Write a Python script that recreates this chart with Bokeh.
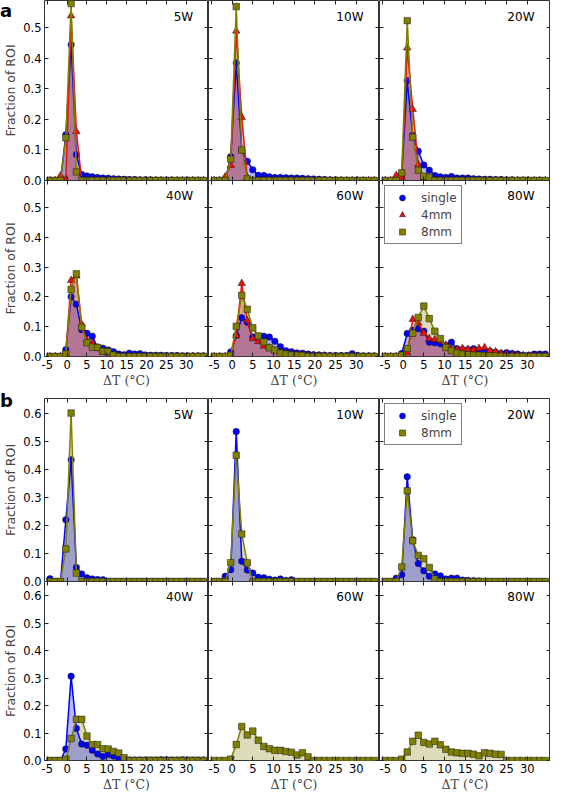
from bokeh.plotting import figure
from bokeh.layouts import column, row
from bokeh.models import (Range1d, FixedTicker, LinearAxis, Label, Legend, LegendItem, Div,
                          ColumnDataSource, PrintfTickFormatter, CustomJSTickFormatter)
from bokeh.embed import file_html
from bokeh.resources import INLINE

# ---------------- data ----------------
delta_t = [-4.33, -3.0, -1.67, -0.33, 1.0, 2.33, 3.67, 5.0, 6.33, 7.67, 9.0, 10.33, 11.67, 13.0, 14.33,
           15.67, 17.0, 18.33, 19.67, 21.0, 22.33, 23.67, 25.0, 26.33, 27.67, 29.0, 30.33, 31.67, 33.0, 34.33]

powers = ["5W", "10W", "20W", "40W", "60W", "80W"]
x_ticks = [-5, 0, 5, 10, 15, 20, 25, 30]
a_y_ticks = [0.0, 0.1, 0.2, 0.3, 0.4, 0.5]
b_y_ticks = [0.0, 0.1, 0.2, 0.3, 0.4, 0.5, 0.6]

# panel a
a_single_5W = [0, 0, 0, 0.15, 0.445, 0.085, 0.02, 0.015, 0.012, 0.01, 0.008, 0.007, 0.006, 0.005, 0.004,
               0.003, 0.003, 0.002, 0.002, 0.002, 0.001, 0.001, 0.001, 0.001, 0, 0, 0, 0, 0, 0]
a_4mm_5W = [0, 0, 0.016, 0.003, 0.54, 0.16, 0, 0, 0, 0, 0, 0, 0, 0, 0,
            0, 0, 0, 0, 0, 0, 0, 0, 0, 0, 0, 0, 0, 0, 0]
a_8mm_5W = [0, 0, 0, 0.14, 0.58, 0.028, 0, 0, 0, 0, 0, 0, 0, 0, 0,
            0, 0, 0, 0, 0, 0, 0, 0, 0, 0, 0, 0, 0, 0, 0]

a_single_10W = [0, 0, 0, 0.078, 0.385, 0.1, 0.063, 0.035, 0.017, 0.016, 0.012, 0.01, 0.01, 0.009, 0.008,
                0.008, 0.007, 0.006, 0.005, 0.004, 0.003, 0.002, 0.002, 0.001, 0, 0, 0, 0, 0, 0]
a_4mm_10W = [0, 0, 0.012, 0.05, 0.49, 0.207, 0.01, 0, 0, 0, 0, 0, 0, 0, 0,
             0, 0, 0, 0, 0, 0, 0, 0, 0, 0, 0, 0, 0, 0, 0]
a_8mm_10W = [0, 0, 0, 0.07, 0.57, 0.1, 0.005, 0, 0, 0, 0, 0, 0, 0, 0,
             0, 0, 0, 0, 0, 0, 0, 0, 0, 0, 0, 0, 0, 0, 0]

a_single_20W = [0, 0, 0, 0.02, 0.327, 0.148, 0.096, 0.051, 0.034, 0.016, 0.012, 0.01, 0.013, 0.008, 0.008,
                0.008, 0.006, 0.005, 0.004, 0.004, 0.003, 0.003, 0.002, 0.002, 0.001, 0.001, 0, 0, 0, 0]
a_4mm_20W = [0, 0, 0.017, 0.01, 0.435, 0.233, 0.052, 0.01, 0, 0, 0, 0, 0, 0, 0,
             0, 0, 0, 0, 0, 0, 0, 0, 0, 0, 0, 0, 0, 0, 0]
a_8mm_20W = [0, 0, 0, 0.025, 0.524, 0.142, 0.034, 0.014, 0.01, 0, 0, 0, 0, 0, 0,
             0, 0, 0, 0, 0, 0, 0, 0, 0, 0, 0, 0, 0, 0, 0]

a_single_40W = [0, 0, 0, 0.023, 0.2, 0.175, 0.09, 0.078, 0.068, 0.03, 0.028, 0.022, 0.016, 0.008, 0.006,
                0.011, 0.008, 0.009, 0.005, 0.004, 0.004, 0.004, 0.003, 0.003, 0.003, 0.002, 0.002, 0.002, 0.002, 0.002]
a_4mm_40W = [0, 0, 0, 0.01, 0.255, 0.27, 0.108, 0.053, 0.045, 0.03, 0.015, 0.012, 0.005, 0, 0,
             0, 0, 0, 0, 0, 0, 0, 0, 0, 0, 0, 0, 0, 0, 0]
a_8mm_40W = [0, 0, 0, 0.008, 0.225, 0.277, 0.098, 0.046, 0.031, 0.03, 0.018, 0.017, 0.005, 0, 0,
             0, 0, 0, 0, 0, 0, 0, 0, 0, 0, 0, 0, 0, 0, 0]

a_single_60W = [0, 0, 0, 0.015, 0.07, 0.13, 0.115, 0.065, 0.068, 0.068, 0.065, 0.051, 0.033, 0.019, 0.016,
                0.012, 0.011, 0.008, 0.006, 0.005, 0.004, 0.003, 0.003, 0.003, 0.003, 0.009, 0.003, 0.002, 0.002, 0.002]
a_4mm_60W = [0, 0, 0, 0.005, 0.07, 0.245, 0.12, 0.06, 0.05, 0.035, 0.03, 0.02, 0.012, 0.01, 0.008,
             0.006, 0.005, 0.003, 0.003, 0.002, 0.002, 0.001, 0, 0, 0, 0, 0, 0, 0, 0]
a_8mm_60W = [0, 0, 0, 0.004, 0.101, 0.205, 0.158, 0.096, 0.069, 0.049, 0.029, 0.022, 0.011, 0.008, 0.005,
             0.004, 0.003, 0, 0, 0, 0, 0, 0, 0, 0, 0, 0, 0, 0, 0]

a_single_80W = [0, 0, 0, 0.01, 0.077, 0.088, 0.093, 0.085, 0.048, 0.046, 0.043, 0.037, 0.048, 0.026, 0.023,
                0.023, 0.026, 0.017, 0.019, 0.017, 0.014, 0.01, 0.013, 0.01, 0.008, 0.004, 0.004, 0.008, 0.008, 0.008]
a_4mm_80W = [0, 0, 0, 0.003, 0.012, 0.125, 0.112, 0.078, 0.06, 0.057, 0.052, 0.038, 0.027, 0.024, 0.027,
             0.024, 0.022, 0.027, 0.03, 0.019, 0.016, 0.011, 0.008, 0.006, 0.004, 0.003, 0.002, 0.002, 0.002, 0.002]
a_8mm_80W = [0, 0, 0, 0.004, 0.027, 0.078, 0.131, 0.169, 0.127, 0.085, 0.06, 0.03, 0.019, 0.011, 0.008,
             0.006, 0.004, 0.004, 0.003, 0.002, 0.002, 0, 0, 0, 0, 0, 0, 0, 0, 0]

# panel b
b_single_5W = [0.01, 0, 0, 0.22, 0.434, 0.05, 0.027, 0.013, 0.009, 0.007, 0.006, 0, 0, 0, 0,
               0, 0, 0, 0, 0, 0, 0, 0, 0, 0, 0, 0, 0, 0, 0]
b_8mm_5W = [0, 0, 0, 0.116, 0.6, 0.03, 0, 0, 0, 0, 0, 0, 0, 0, 0,
            0, 0, 0, 0, 0, 0, 0, 0, 0, 0, 0, 0, 0, 0, 0]

b_single_10W = [0, 0, 0.019, 0.042, 0.534, 0.072, 0.041, 0.03, 0.015, 0.013, 0.008, 0.005, 0.009, 0.004, 0.006,
                0, 0, 0, 0, 0, 0, 0, 0, 0, 0, 0, 0, 0, 0, 0]
b_8mm_10W = [0, 0, 0, 0.067, 0.45, 0.169, 0.067, 0, 0, 0, 0, 0, 0, 0, 0,
             0, 0, 0, 0, 0, 0, 0, 0, 0, 0, 0, 0, 0, 0, 0]

b_single_20W = [0, 0, 0.012, 0.024, 0.373, 0.149, 0.064, 0.038, 0.019, 0.027, 0.02, 0.009, 0.012, 0.012, 0.005,
                0.004, 0.003, 0.002, 0, 0, 0, 0, 0, 0, 0, 0, 0, 0, 0, 0]
b_8mm_20W = [0, 0, 0, 0.052, 0.323, 0.145, 0.093, 0.081, 0.05, 0.009, 0, 0, 0, 0, 0,
             0, 0, 0, 0, 0, 0, 0, 0, 0, 0, 0, 0, 0, 0, 0]

b_single_40W = [0, 0, 0, 0.042, 0.307, 0.117, 0.06, 0.056, 0.037, 0.024, 0.015, 0.022, 0.016, 0.008, 0.003,
                0.002, 0.002, 0.002, 0.002, 0.002, 0.002, 0.003, 0.003, 0.002, 0.002, 0.003, 0.002, 0.002, 0.002, 0.002]
b_8mm_40W = [0, 0, 0, 0.005, 0.08, 0.15, 0.15, 0.089, 0.058, 0.058, 0.043, 0.042, 0.033, 0.027, 0.01,
             0, 0, 0, 0, 0, 0, 0, 0, 0, 0, 0, 0, 0, 0, 0]

b_single_60W = []
b_8mm_60W = [0, 0, 0, 0.005, 0.058, 0.124, 0.093, 0.107, 0.074, 0.051, 0.043, 0.037, 0.037, 0.033, 0.03,
             0.02, 0.028, 0.014, 0, 0, 0, 0, 0, 0, 0, 0, 0, 0, 0, 0]

b_single_80W = []
b_8mm_80W = [0, 0, 0, 0.005, 0.031, 0.07, 0.092, 0.066, 0.06, 0.07, 0.057, 0.041, 0.031, 0.028, 0.026,
             0.026, 0.023, 0.017, 0.028, 0.026, 0.023, 0.022, 0, 0, 0, 0, 0, 0, 0, 0]

a_series = {
    "5W": (a_single_5W, a_4mm_5W, a_8mm_5W),
    "10W": (a_single_10W, a_4mm_10W, a_8mm_10W),
    "20W": (a_single_20W, a_4mm_20W, a_8mm_20W),
    "40W": (a_single_40W, a_4mm_40W, a_8mm_40W),
    "60W": (a_single_60W, a_4mm_60W, a_8mm_60W),
    "80W": (a_single_80W, a_4mm_80W, a_8mm_80W),
}
b_series = {
    "5W": (b_single_5W, None, b_8mm_5W),
    "10W": (b_single_10W, None, b_8mm_10W),
    "20W": (b_single_20W, None, b_8mm_20W),
    "40W": (b_single_40W, None, b_8mm_40W),
    "60W": (b_single_60W, None, b_8mm_60W),
    "80W": (b_single_80W, None, b_8mm_80W),
}

# ---------------- styling ----------------
FONT = "DejaVu Sans"
XMIN, XMAX = -5.7, 35.6
A_YMAX, B_YMAX = 0.59, 0.652
LEFT, FW = 37, 171
FH_A, FH_B = 180, 183
TOP_B, BOTTOM = 8, 30
OVER = 7  # room under the upper row for its "0.0" label, overlapped by the lower row

C_SINGLE = "#0000ff"
C_4MM = "#e8120c"
C_8MM = "#808000"


def style_axis(ax, ticks, show, fmt=None):
    ax.ticker = FixedTicker(ticks=ticks)
    ax.major_tick_in = 4
    ax.major_tick_out = 0
    ax.minor_tick_in = 0
    ax.minor_tick_out = 0
    ax.axis_line_color = None
    ax.major_tick_line_color = "#222222"
    if show:
        if fmt is not None:
            ax.formatter = fmt
        ax.major_label_text_font = FONT
        ax.major_label_text_font_size = "11.5px"
        ax.major_label_text_color = "black"
        ax.major_label_standoff = 3
    else:
        ax.formatter = CustomJSTickFormatter(code="return ''")
        ax.major_label_text_font_size = "0px"
        ax.major_label_standoff = 0


def make_panel(group, r, c):
    power = powers[r * 3 + c]
    fh = FH_A if group == "a" else FH_B
    ymax = A_YMAX if group == "a" else B_YMAX
    yticks = a_y_ticks if group == "a" else b_y_ticks
    top = TOP_B if (group == "b" and r == 0) else 0
    bottom = BOTTOM if r == 1 else OVER
    left = LEFT if c == 0 else 0
    kw = {}
    if r == 1:
        kw["margin"] = (-OVER, 0, 0, 0)
    p = figure(width=left + FW, height=top + fh + bottom,
               x_range=Range1d(XMIN, XMAX), y_range=Range1d(0, ymax),
               output_backend="svg", toolbar_location=None, tools="",
               min_border_left=left, min_border_right=0,
               min_border_top=top, min_border_bottom=bottom, **kw)
    p.grid.visible = False
    p.outline_line_color = "#333333"
    p.outline_line_width = 1
    p.background_fill_color = "white"
    p.border_fill_color = "white" if r == 0 else None

    x_ax = p.below[0]
    y_ax = p.left[0]
    style_axis(x_ax, x_ticks, r == 1, PrintfTickFormatter(format="%d"))
    style_axis(y_ax, yticks, c == 0, PrintfTickFormatter(format="%.1f"))
    top_ax = LinearAxis()
    style_axis(top_ax, x_ticks, False)
    p.add_layout(top_ax, "above")
    right_ax = LinearAxis()
    style_axis(right_ax, yticks, False)
    p.add_layout(right_ax, "right")

    if r == 1:
        x_ax.axis_label = "ΔT (°C)"
        x_ax.axis_label_text_font = "DejaVu Serif"
        x_ax.axis_label_text_font_style = "normal"
        x_ax.axis_label_text_font_size = "12.5px"
        x_ax.axis_label_standoff = 1
    if c == 0:
        y_ax.axis_label = "Fraction of ROI"
        y_ax.axis_label_text_font = FONT
        y_ax.axis_label_text_font_style = "normal"
        y_ax.axis_label_text_font_size = "12.5px"
        y_ax.axis_label_standoff = 2

    single, mm4, mm8 = (a_series if group == "a" else b_series)[power]
    # fills: 8mm, single, 4mm
    for vals, col in [(mm8, C_8MM), (single, C_SINGLE), (mm4, C_4MM)]:
        if vals:
            src = ColumnDataSource(dict(x=delta_t, y=vals))
            p.varea(x="x", y1=0, y2="y", source=src, fill_color=col, fill_alpha=0.28)
    rends = {}
    specs = [("single", single, C_SINGLE, "circle", 6.5),
             ("4mm", mm4, C_4MM, "triangle", 7.5),
             ("8mm", mm8, C_8MM, "square", 6.5)]
    for name, vals, col, mk, sz in specs:
        if vals:
            src = ColumnDataSource(dict(x=delta_t, y=vals))
            p.line(x="x", y="y", source=src, line_color=col, line_width=1.5)
            rends[name] = p.scatter(x="x", y="y", source=src, marker=mk, size=sz,
                                    fill_color=col, line_color="#1a1a1a", line_width=0.5)

    xu = (XMAX - XMIN) / FW
    yu = ymax / fh
    p.add_layout(Label(x=XMAX - 16 * xu, y=ymax - 16 * yu, text=power, text_align="right",
                       text_baseline="middle", text_font=FONT, text_font_size="12px",
                       text_color="black"))

    if (group == "a" and power == "80W") or (group == "b" and power == "20W"):
        names = ["single", "4mm", "8mm"] if group == "a" else ["single", "8mm"]
        items = [LegendItem(label=n, renderers=[rends[n]]) for n in names]
        leg = Legend(items=items, location="top_left", margin=5, padding=4, spacing=2,
                     glyph_width=26, glyph_height=15, label_height=15, label_standoff=6,
                     label_text_font=FONT, label_text_font_size="12px",
                     border_line_color="black", border_line_width=1,
                     background_fill_color="white", background_fill_alpha=1)
        p.add_layout(leg)
    return p


def group_label(text):
    return Div(text=text, width=20, height=22, margin=(0, 0, -22, 0),
               styles={"font-family": "DejaVu Sans", "font-size": "18px", "font-weight": "bold",
                       "line-height": "22px", "color": "black", "z-index": "10",
                       "position": "relative", "overflow": "visible"})


items = []
for group in ["a", "b"]:
    items.append(group_label(group))
    for r in range(2):
        items.append(row([make_panel(group, r, c) for c in range(3)], spacing=0))

page = column(items, spacing=0)

open("out.html", "w").write(file_html(page, INLINE))
